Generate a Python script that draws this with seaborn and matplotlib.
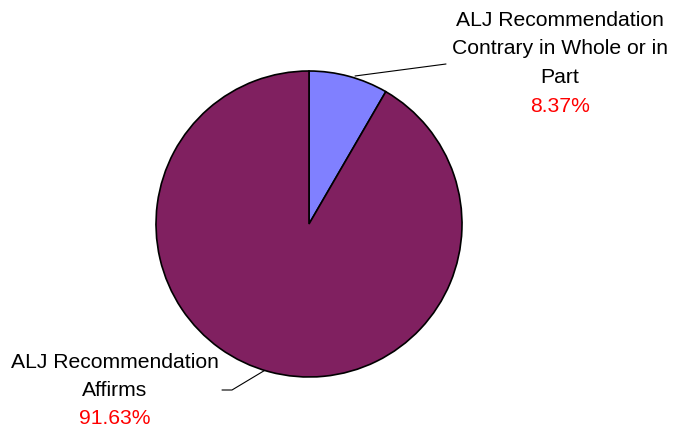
import matplotlib
matplotlib.use('Agg')
import matplotlib.pyplot as plt
import seaborn as sns

categories = ['ALJ Recommendation\nContrary in Whole or in\nPart', 'ALJ Recommendation\nAffirms']
shares = [8.37, 91.63]
pct_labels = ['8.37%', '91.63%']
colors = ['#8080FF', '#802060']

sns.set_theme(style='white')
plt.rcParams['font.family'] = ['Liberation Sans', 'DejaVu Sans']

W, H = 673, 433
fig = plt.figure(figsize=(W / 100, H / 100), dpi=100)
ax = fig.add_axes([0, 0, 1, 1])
ax.set_xlim(0, W)
ax.set_ylim(H, 0)
ax.axis('off')

# pie drawn in a y-up helper axes on top so the slice direction stays normal
pax = fig.add_axes([0, 0, 1, 1])
cx, cy, r = 309, H - 224, 153
pax.pie(shares, colors=colors, startangle=90, counterclock=False,
        center=(cx, cy), radius=r, frame=True,
        wedgeprops=dict(edgecolor='black', linewidth=1.2))
pax.set_xlim(0, W)
pax.set_ylim(0, H)
pax.set_aspect('auto')
pax.axis('off')

fs = 15.2
top_lines = categories[0].split('\n')
for i, line in enumerate(top_lines):
    ax.text(560, 20 + i * 28.7, line, ha='center', va='center', fontsize=fs, color='black')
ax.text(560, 106, pct_labels[0], ha='center', va='center', fontsize=fs, color='red')
ax.plot([355, 446], [76, 64], color='black', lw=0.8)

bot_lines = categories[1].split('\n')
for i, line in enumerate(bot_lines):
    ax.text(115, 362 + i * 28.7, line, ha='center', va='center', fontsize=fs, color='black')
ax.text(115, 418, pct_labels[1], ha='center', va='center', fontsize=fs, color='red')
ax.plot([267, 232, 222], [369, 390, 390], color='black', lw=0.8)

fig.savefig('out.png', dpi=100)
